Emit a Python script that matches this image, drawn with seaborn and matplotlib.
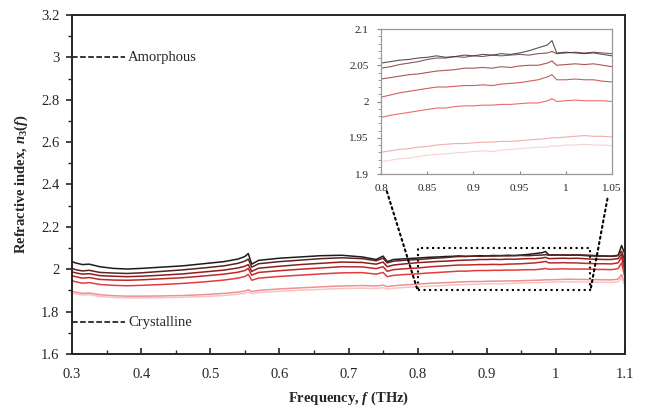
import matplotlib
matplotlib.use("Agg")
import matplotlib.pyplot as plt
import numpy as np
import pandas as pd
import seaborn as sns
from matplotlib.patches import ConnectionPatch, Rectangle
from matplotlib.ticker import MultipleLocator, FuncFormatter

sns.set_style("ticks")
plt.rcParams["font.family"] = ["Liberation Serif", "DejaVu Serif"]
plt.rcParams["mathtext.fontset"] = "custom"
plt.rcParams["mathtext.rm"] = "Liberation Serif:bold"
plt.rcParams["mathtext.it"] = "Liberation Serif:italic:bold"
plt.rcParams["mathtext.bf"] = "Liberation Serif:bold"

# frequency grid (THz)
freq = [0.300, 0.305, 0.315, 0.325, 0.34, 0.36, 0.38, 0.40, 0.43, 0.46,
        0.49, 0.52, 0.54, 0.550, 0.555, 0.560, 0.570, 0.60, 0.63, 0.66,
        0.69, 0.72, 0.740, 0.750, 0.756, 0.765, 0.78, 0.80, 0.81, 0.82,
        0.83, 0.84, 0.85, 0.86, 0.87, 0.88, 0.89, 0.90, 0.91, 0.92,
        0.93, 0.94, 0.95, 0.96, 0.97, 0.98, 0.985, 0.99, 1.00, 1.01,
        1.02, 1.03, 1.04, 1.05, 1.06, 1.07, 1.08, 1.09, 1.095, 1.1]

s1 = [2.036, 2.030, 2.022, 2.024, 2.012, 2.004, 2.001, 2.004, 2.010, 2.016,
      2.026, 2.036, 2.048, 2.060, 2.074, 2.024, 2.042, 2.052, 2.058, 2.064,
      2.066, 2.058, 2.046, 2.062, 2.036, 2.046, 2.049, 2.053, 2.055, 2.057,
      2.058, 2.060, 2.061, 2.063, 2.061, 2.062, 2.064, 2.063, 2.065, 2.064,
      2.066, 2.065, 2.067, 2.070, 2.074, 2.078, 2.084, 2.067, 2.068, 2.067,
      2.066, 2.067, 2.065, 2.063, 2.062, 2.062, 2.061, 2.064, 2.112, 2.070]
s2 = [2.004, 1.998, 1.992, 1.995, 1.985, 1.982, 1.980, 1.983, 1.990, 1.997,
      2.006, 2.016, 2.028, 2.038, 2.048, 2.010, 2.026, 2.036, 2.043, 2.050,
      2.054, 2.050, 2.040, 2.052, 2.030, 2.038, 2.042, 2.046, 2.048, 2.051,
      2.053, 2.055, 2.058, 2.060, 2.060, 2.062, 2.061, 2.063, 2.062, 2.064,
      2.063, 2.064, 2.065, 2.064, 2.066, 2.067, 2.069, 2.066, 2.067, 2.068,
      2.067, 2.068, 2.067, 2.066, 2.064, 2.063, 2.062, 2.066, 2.085, 2.040]
s3 = [1.988, 1.983, 1.977, 1.979, 1.970, 1.967, 1.965, 1.967, 1.972, 1.978,
      1.987, 1.996, 2.006, 2.014, 2.022, 1.990, 2.005, 2.014, 2.022, 2.028,
      2.034, 2.032, 2.024, 2.034, 2.012, 2.020, 2.025, 2.031, 2.033, 2.035,
      2.037, 2.038, 2.040, 2.042, 2.043, 2.044, 2.046, 2.046, 2.047, 2.046,
      2.048, 2.047, 2.049, 2.050, 2.050, 2.053, 2.056, 2.050, 2.051, 2.052,
      2.051, 2.052, 2.050, 2.048, 2.047, 2.046, 2.046, 2.050, 2.072, 2.010]
s4 = [1.970, 1.965, 1.958, 1.961, 1.952, 1.949, 1.948, 1.950, 1.955, 1.960,
      1.968, 1.977, 1.986, 1.994, 2.004, 1.972, 1.985, 1.993, 2.000, 2.006,
      2.012, 2.011, 2.003, 2.012, 1.990, 1.998, 2.002, 2.006, 2.009, 2.012,
      2.014, 2.016, 2.018, 2.020, 2.020, 2.021, 2.022, 2.022, 2.023, 2.022,
      2.024, 2.025, 2.026, 2.028, 2.030, 2.034, 2.037, 2.030, 2.030, 2.031,
      2.030, 2.030, 2.028, 2.027, 2.026, 2.026, 2.025, 2.030, 2.058, 1.985]
s5 = [1.946, 1.941, 1.934, 1.937, 1.928, 1.924, 1.922, 1.924, 1.928, 1.933,
      1.940, 1.949, 1.958, 1.966, 1.976, 1.948, 1.958, 1.966, 1.972, 1.978,
      1.983, 1.984, 1.977, 1.985, 1.965, 1.971, 1.975, 1.978, 1.981, 1.983,
      1.985, 1.987, 1.989, 1.991, 1.991, 1.993, 1.994, 1.994, 1.995, 1.995,
      1.996, 1.996, 1.997, 1.998, 1.998, 2.001, 2.004, 2.000, 2.001, 2.002,
      2.001, 2.001, 2.001, 2.000, 1.999, 1.999, 1.998, 2.003, 2.030, 1.960]
s6 = [1.897, 1.892, 1.886, 1.888, 1.880, 1.875, 1.873, 1.873, 1.874, 1.876,
      1.880, 1.886, 1.892, 1.897, 1.903, 1.895, 1.900, 1.907, 1.912, 1.917,
      1.921, 1.923, 1.921, 1.925, 1.918, 1.922, 1.926, 1.930, 1.932, 1.934,
      1.935, 1.937, 1.938, 1.940, 1.941, 1.942, 1.942, 1.943, 1.944, 1.944,
      1.945, 1.945, 1.946, 1.947, 1.948, 1.949, 1.950, 1.950, 1.951, 1.952,
      1.953, 1.952, 1.952, 1.951, 1.951, 1.950, 1.950, 1.953, 1.975, 1.930]
s7 = [1.888, 1.884, 1.878, 1.880, 1.872, 1.867, 1.865, 1.865, 1.866, 1.868,
      1.871, 1.876, 1.882, 1.887, 1.892, 1.885, 1.890, 1.896, 1.901, 1.905,
      1.909, 1.911, 1.909, 1.913, 1.906, 1.910, 1.914, 1.917, 1.919, 1.921,
      1.922, 1.924, 1.926, 1.927, 1.928, 1.929, 1.930, 1.931, 1.932, 1.931,
      1.933, 1.934, 1.935, 1.936, 1.937, 1.937, 1.939, 1.938, 1.940, 1.940,
      1.941, 1.940, 1.940, 1.939, 1.939, 1.938, 1.938, 1.941, 1.960, 1.920]

series = [s1, s2, s3, s4, s5, s6, s7]
names = ["S1", "S2", "S3", "S4", "S5", "S6", "S7"]
colors = ["#1c1c1c", "#5a2424", "#8e1e1e", "#c02828", "#e23c3c", "#f09090", "#f6c4c4"]

ref_levels = [3.0, 1.75]
ref_labels = ["Amorphous", "Crystalline"]

df = pd.concat(
    [pd.DataFrame({"freq": freq, "n": vals, "sample": name})
     for vals, name in zip(series, names)],
    ignore_index=True,
)

fig = plt.figure(figsize=(6.47, 4.11), dpi=100)
ax = fig.add_axes([0.1113, 0.1387, 0.8547, 0.8248])

sns.lineplot(data=df, x="freq", y="n", hue="sample", palette=colors,
             hue_order=names, linewidth=1.1, legend=False, ax=ax)

# amorphous / crystalline reference markers
for lvl, lab in zip(ref_levels, ref_labels):
    ax.plot([0.3, 0.376], [lvl, lvl], ls="--", color="black", lw=1.1)
    ax.text(0.381, lvl, lab, va="center", ha="left", fontsize=10.5)

ax.set_xlim(0.3, 1.1)
ax.set_ylim(1.6, 3.2)
ax.xaxis.set_major_locator(MultipleLocator(0.1))
ax.xaxis.set_minor_locator(MultipleLocator(0.05))
ax.yaxis.set_major_locator(MultipleLocator(0.2))
ax.yaxis.set_minor_locator(MultipleLocator(0.1))
fmt = FuncFormatter(lambda v, p: f"{v:g}")
ax.xaxis.set_major_formatter(fmt)
ax.yaxis.set_major_formatter(fmt)
ax.tick_params(axis="x", which="both", direction="in", labelsize=10.5, pad=10)
ax.tick_params(axis="y", which="both", direction="out", labelsize=10.5, pad=5)
ax.tick_params(which="major", length=4, width=1.2)
ax.tick_params(which="minor", length=3, width=1.0)
for sp in ax.spines.values():
    sp.set_linewidth(1.4)

ax.set_xlabel(r"Frequency, $f$ (THz)", fontsize=10.5, fontweight="bold", labelpad=6)
ax.set_ylabel(r"Refractive index, $n_3(f)$", fontsize=10.5, fontweight="bold", labelpad=8)

# zoom box
ax.add_patch(Rectangle((0.8, 1.9), 0.25, 0.2, fill=False, ls=":", lw=1.5, ec="black"))

# inset
axin = fig.add_axes([0.589, 0.5766, 0.357, 0.3528])
sns.lineplot(data=df, x="freq", y="n", hue="sample", palette=colors,
             hue_order=names, linewidth=0.8, alpha=0.75, legend=False, ax=axin)
axin.set_xlim(0.8, 1.05)
axin.set_ylim(1.9, 2.1)
axin.xaxis.set_major_locator(MultipleLocator(0.05))
axin.yaxis.set_major_locator(MultipleLocator(0.05))
axin.yaxis.set_minor_locator(MultipleLocator(0.01))
axin.xaxis.set_major_formatter(fmt)
axin.yaxis.set_major_formatter(fmt)
axin.set_xlabel("")
axin.set_ylabel("")
axin.tick_params(axis="both", which="both", labelsize=8, color="#888888")
axin.tick_params(axis="x", direction="in", length=2, pad=7)
axin.tick_params(axis="y", which="major", direction="out", length=3, pad=6)
axin.tick_params(axis="y", which="minor", direction="out", length=2)
for sp in axin.spines.values():
    sp.set_color("#999999")
    sp.set_linewidth(0.9)

for xa, xb in [((0.025, -0.12), (0.8, 1.9)), ((0.98, -0.17), (1.05, 1.9))]:
    con = ConnectionPatch(xyA=xa, coordsA=axin.transAxes, xyB=xb, coordsB=ax.transData,
                          ls=":", lw=1.5, color="black")
    fig.add_artist(con)

fig.savefig("out.png", dpi=100)
